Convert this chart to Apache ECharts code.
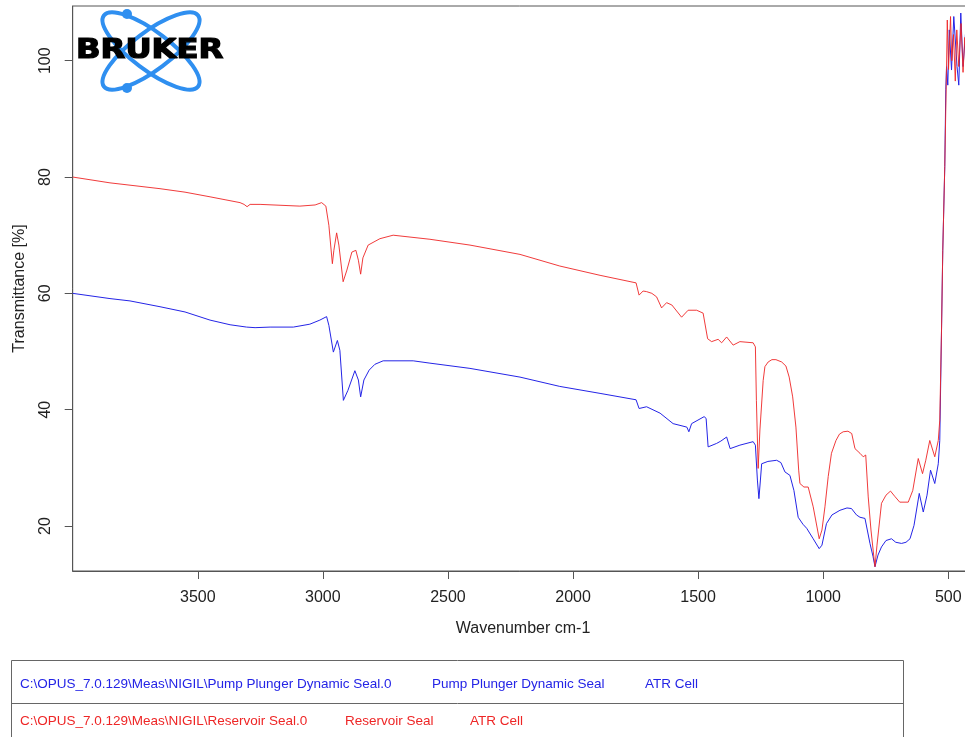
<!DOCTYPE html>
<html>
<head>
<meta charset="utf-8">
<script src="https://cdn.jsdelivr.net/npm/echarts@6/dist/echarts.min.js"></script>
<style>
  html, body { margin: 0; padding: 0; background: #fff; }
  #main { width: 965px; height: 737px; }
</style>
</head>
<body>
<div id="main"></div>
<script>
// Reservoir Seal (red)
var redWn = [4000,3851,3751,3651,3551,3451,3391,3331,3315,3303,3291,3251,3092,3031,3005,2988,2976,2962,2956,2945,2936,2919,2904,2884,2868,2858,2849,2840,2819,2772,2719,2572,2412,2212,2053,1892,1748,1736,1720,1706,1685,1666,1646,1626,1605,1566,1540,1506,1480,1462,1446,1420,1406,1386,1360,1333,1280,1271,1267,1260,1253,1240,1233,1220,1205,1189,1166,1149,1136,1122,1109,1098,1093,1077,1060,1040,1016,1005,993,980,967,949,935,920,901,886,873,853,840,830,820,809,797,793,785,767,749,731,714,694,660,642,620,603,590,574,554,540,534,527,522,514,507,504,499,491,486,479,472,466,458,449,441,434,426];
var redT = [80.0,79.0,78.5,78.0,77.4,76.6,76.1,75.6,75.3,74.9,75.3,75.3,75.0,75.2,75.6,75.0,71.7,65.1,67.4,70.4,68.3,62.0,64.0,67.1,67.4,65.7,63.3,66.1,68.3,69.4,70.0,69.3,68.3,66.7,64.7,63.1,61.8,59.7,60.4,60.3,60.0,59.4,57.5,58.4,58.0,55.9,57.1,57.1,56.6,52.2,51.7,52.1,51.5,52.5,51.1,51.7,51.5,50.8,41.6,29.9,36.5,45.0,47.4,48.2,48.6,48.6,48.2,47.5,45.6,42.2,37.0,29.6,27.3,26.7,26.7,23.3,17.8,19.3,23.3,28.5,32.5,34.7,35.8,36.2,36.3,35.9,33.3,32.5,31.9,32.2,25.0,19.3,14.5,13.0,16.7,23.9,25.3,26.0,25.1,24.1,24.1,26.1,31.6,29.0,31.3,34.7,31.9,34.7,38.2,53.7,67.4,81.8,99.0,107.0,98.5,107.6,100.0,104.5,96.5,105.3,99.0,106.4,98.0,104.0,99.5];

// Pump Plunger Dynamic Seal (blue)
var blueWn = [4000,3851,3771,3651,3551,3451,3371,3305,3271,3211,3118,3052,3012,2985,2976,2958,2942,2932,2918,2900,2872,2858,2849,2836,2815,2792,2759,2639,2572,2412,2212,2053,1892,1748,1736,1706,1652,1600,1545,1537,1526,1476,1468,1460,1426,1409,1386,1372,1333,1280,1271,1263,1257,1251,1246,1221,1186,1169,1153,1133,1117,1100,1081,1066,1040,1016,1005,987,965,933,905,887,867,853,833,813,801,793,781,767,749,727,710,687,669,653,637,616,600,585,571,554,540,534,527,522,514,510,507,502,496,487,478,465,458,450,441,430,422];
var blueT = [60.0,59.1,58.7,57.7,56.8,55.4,54.6,54.2,54.1,54.2,54.2,54.7,55.4,56.0,54.5,49.9,51.9,50.2,41.6,43.3,46.7,45.1,42.2,45.1,46.8,47.8,48.4,48.4,48.0,47.1,45.6,44.0,42.8,41.7,40.2,40.5,39.4,37.6,37.0,36.2,37.6,38.8,38.5,33.6,34.2,34.6,35.3,33.3,33.9,34.5,33.9,27.9,24.7,27.9,30.7,31.1,31.3,30.9,29.3,28.7,26.1,21.5,20.3,19.6,17.8,16.1,16.7,20.4,21.9,22.7,23.1,23.0,21.9,21.5,21.3,17.0,14.8,13.0,15.0,16.4,17.5,17.8,17.2,17.0,17.2,17.8,20.1,25.6,22.4,25.3,29.6,27.3,30.7,34.7,53.7,67.4,81.8,95.0,99.0,95.8,105.3,98.4,107.6,99.0,95.8,108.2,99.0,105.3,96.7];

var xTicks = [3500, 3000, 2500, 2000, 1500, 1000, 500];
var yTicks = [20, 40, 60, 80, 100];

var rowBlue = ['C:\\OPUS_7.0.129\\Meas\\NIGIL\\Pump Plunger Dynamic Seal.0', 'Pump Plunger Dynamic Seal', 'ATR Cell'];
var rowRed = ['C:\\OPUS_7.0.129\\Meas\\NIGIL\\Reservoir Seal.0', 'Reservoir Seal', 'ATR Cell'];

var colorRed = '#ee2626';
var colorBlue = '#2424e6';
var axisColor = '#555';

function zip(a, b) {
    var out = [];
    for (var i = 0; i < a.length; i++) {
        out.push([a[i], b[i]]);
    }
    return out;
}

var legendFont = "'Liberation Sans Narrow', 'Arial Narrow', 'Liberation Sans', sans-serif";

function legendText(x, y, txt, color) {
    return {
        type: 'text', x: x, y: y, z: 20,
        style: { text: txt, fill: color, fontSize: 13.5, fontFamily: legendFont, textVerticalAlign: 'middle' }
    };
}

var logo = [
    { type: 'ellipse', x: 151, y: 51, rotation: 0.646, z: 10,
      shape: { cx: 0, cy: 0, rx: 59, ry: 19 }, style: { fill: 'none', stroke: '#2f8ff0', lineWidth: 4 } },
    { type: 'ellipse', x: 151, y: 51, rotation: -0.646, z: 10,
      shape: { cx: 0, cy: 0, rx: 59, ry: 19 }, style: { fill: 'none', stroke: '#2f8ff0', lineWidth: 4 } },
    { type: 'circle', z: 11, shape: { cx: 127, cy: 14, r: 5 }, style: { fill: '#2f8ff0' } },
    { type: 'circle', z: 11, shape: { cx: 127, cy: 88, r: 5 }, style: { fill: '#2f8ff0' } },
    { type: 'text', x: 76, y: 51, z: 12, scaleX: 1.24,
      style: { text: 'BRUKER', fill: '#000', stroke: '#000', lineWidth: 1.2, fontSize: 26, fontWeight: 900,
               fontFamily: "'DejaVu Sans', sans-serif", textVerticalAlign: 'middle' } }
];

var box = [
    { type: 'rect', z: 20, shape: { x: 11.5, y: 660.5, width: 892, height: 120 },
      style: { fill: 'none', stroke: '#666', lineWidth: 1 } },
    { type: 'line', z: 20, shape: { x1: 11.5, y1: 703.5, x2: 903.5, y2: 703.5 },
      style: { stroke: '#666', lineWidth: 1 } },
    legendText(20, 684, rowBlue[0], colorBlue),
    legendText(432, 684, rowBlue[1], colorBlue),
    legendText(645, 684, rowBlue[2], colorBlue),
    legendText(20, 721, rowRed[0], colorRed),
    legendText(345, 721, rowRed[1], colorRed),
    legendText(470, 721, rowRed[2], colorRed)
];

var chart = echarts.init(document.getElementById('main'), null, { renderer: 'canvas' });

var option = {
    animation: false,
    backgroundColor: '#fff',
    grid: {
        left: 72.7, right: -8.3, top: 6, bottom: 166,
        show: true, borderColor: axisColor, borderWidth: 1,
        outerBoundsMode: 'none'
    },
    xAxis: {
        type: 'value', inverse: true, min: 400, max: 4000,
        name: 'Wavenumber cm-1', nameLocation: 'middle', nameGap: 50,
        nameTextStyle: { fontSize: 16, color: '#222', fontFamily: "'Liberation Sans', sans-serif" },
        axisLine: { show: true, lineStyle: { color: axisColor } },
        axisTick: { show: true, length: 8, customValues: xTicks, lineStyle: { color: axisColor } },
        axisLabel: { customValues: xTicks, fontSize: 16, color: '#222', margin: 19,
                     fontFamily: "'Liberation Sans', sans-serif",
                     formatter: function (v) { return String(v); } },
        splitLine: { show: false }
    },
    yAxis: {
        type: 'value', min: 12.26, max: 109.41,
        name: 'Transmittance [%]', nameLocation: 'middle', nameGap: 45, nameRotate: 90,
        nameTextStyle: { fontSize: 16, color: '#222', fontFamily: "'Liberation Sans', sans-serif" },
        axisLine: { show: true, lineStyle: { color: axisColor } },
        axisTick: { show: true, length: 8, customValues: yTicks, lineStyle: { color: axisColor } },
        axisLabel: { customValues: yTicks, rotate: 90, fontSize: 16, color: '#222', margin: 19,
                     fontFamily: "'Liberation Sans', sans-serif",
                     formatter: function (v) { return String(v); } },
        splitLine: { show: false }
    },
    series: [
        { name: 'Pump Plunger Dynamic Seal', type: 'line', data: zip(blueWn, blueT),
          showSymbol: false, lineStyle: { color: colorBlue, width: 1 }, itemStyle: { color: colorBlue } },
        { name: 'Reservoir Seal', type: 'line', data: zip(redWn, redT),
          showSymbol: false, lineStyle: { color: colorRed, width: 1, opacity: 0.9 }, itemStyle: { color: colorRed } }
    ],
    graphic: logo.concat(box)
};

chart.setOption(option);
</script>
</body>
</html>
